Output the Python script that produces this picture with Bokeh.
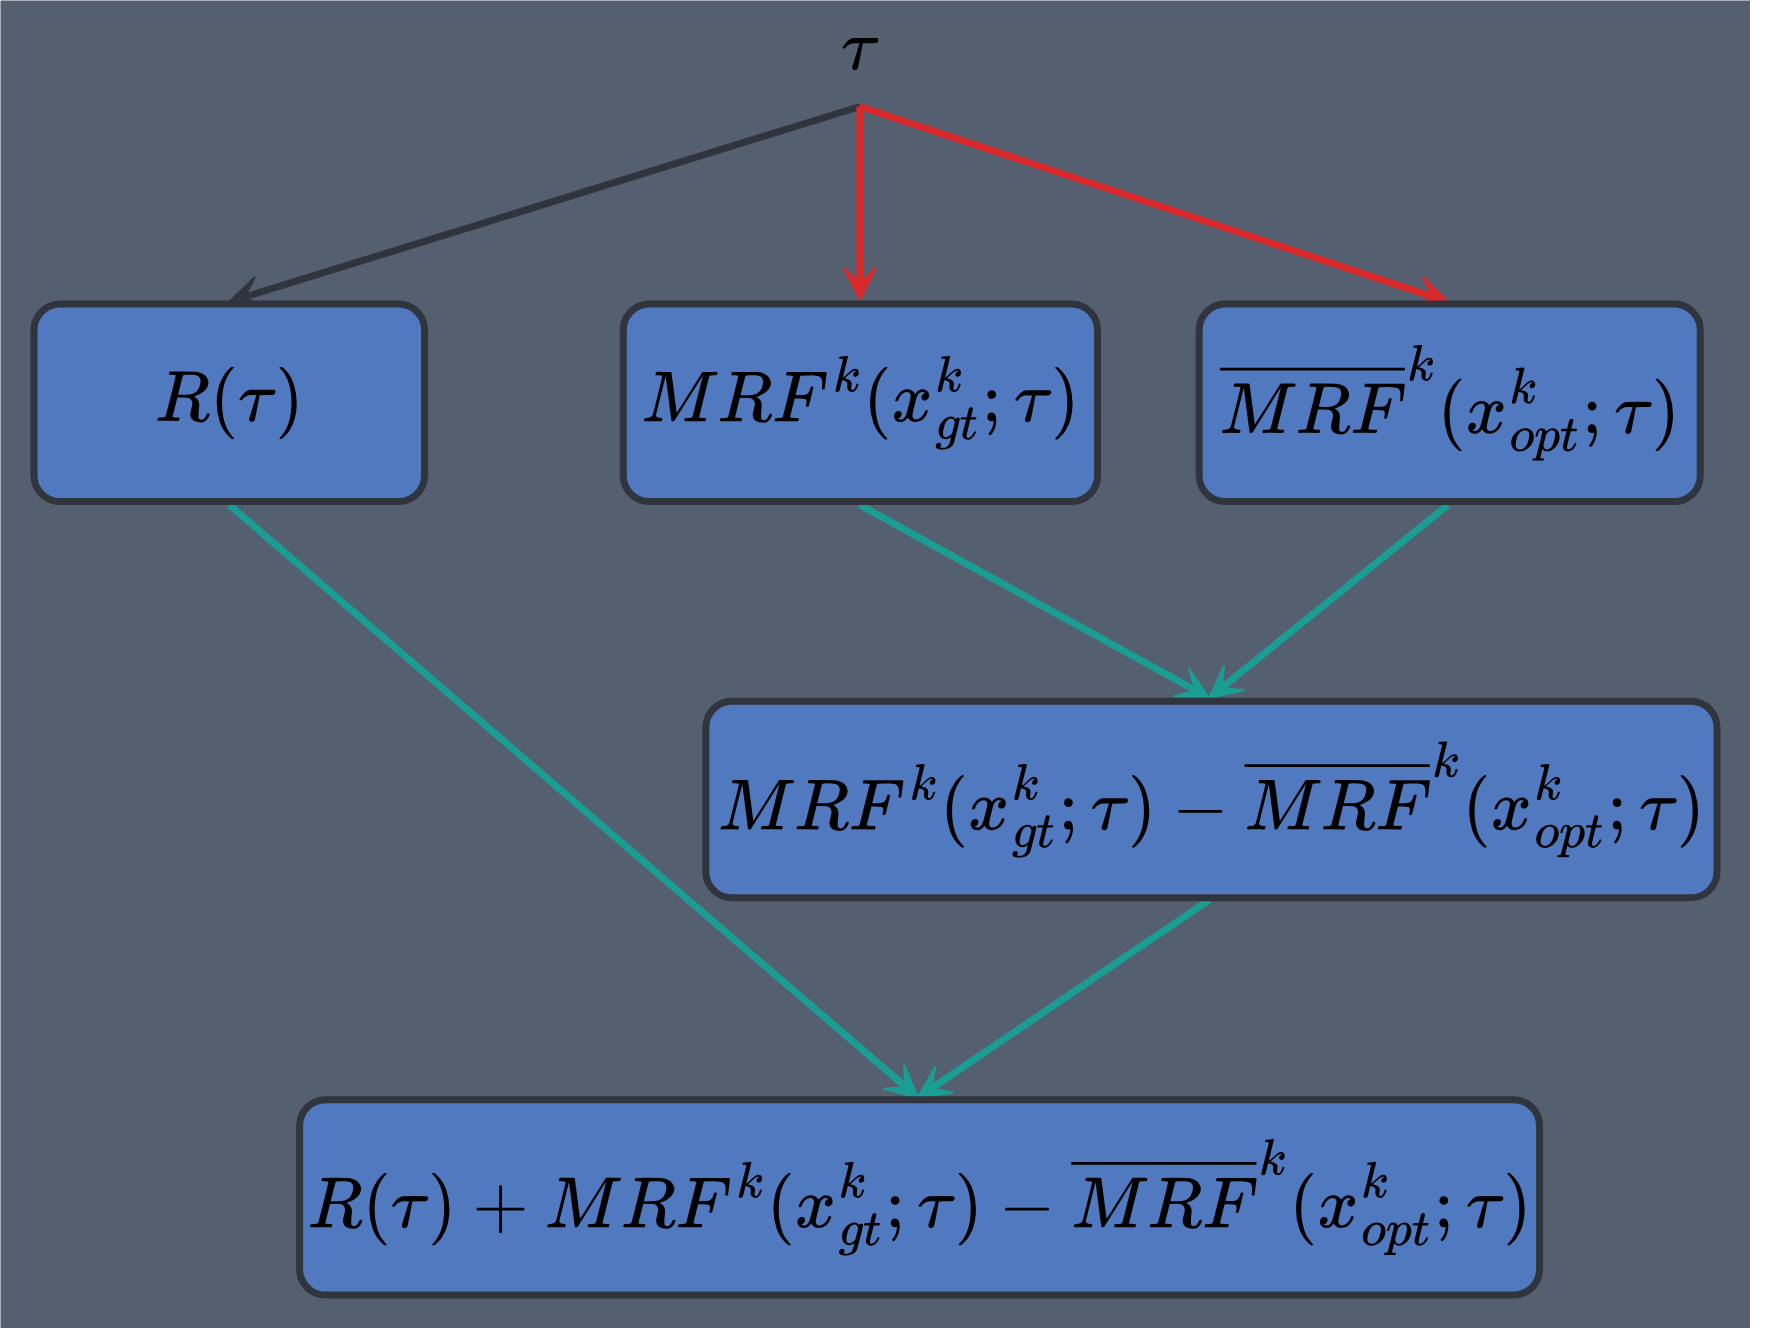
from bokeh.embed import file_html
from bokeh.models import Arrow, BoxAnnotation, Label, Range1d, VeeHead
from bokeh.plotting import figure
from bokeh.resources import INLINE

# boxes: left, right, top, bottom (diagram units, y grows downward)
box_left = [30, 558, 1074, 632, 268]
box_right = [380, 983, 1523, 1538, 1379]
box_top = [272, 272, 272, 628, 985]
box_bottom = [449, 449, 449, 804, 1160]
box_labels = [
    r"$$R(\tau)$$",
    r"$$MRF^k(x^k_{gt};\tau)$$",
    r"$$\overline{MRF}^k(x^k_{opt};\tau)$$",
    r"$$MRF^k(x^k_{gt};\tau)-\overline{MRF}^k(x^k_{opt};\tau)$$",
    r"$$R(\tau)+MRF^k(x^k_{gt};\tau)-\overline{MRF}^k(x^k_{opt};\tau)$$",
]

# arrows: x_start, y_start, x_end, y_end, colour
arr_x0 = [770, 770, 770, 205, 770, 1297, 1083]
arr_y0 = [95, 95, 95, 452, 452, 452, 806]
arr_x1 = [205, 770, 1297, 822, 1083, 1083, 822]
arr_y1 = [270, 268, 270, 983, 625, 625, 983]
arr_col = ["#30353d", "#d9282a", "#d9282a", "#1a9e94", "#1a9e94", "#1a9e94", "#1a9e94"]

p = figure(width=1750, height=1328, output_backend="svg", toolbar_location=None,
           x_range=Range1d(0, 1568), y_range=Range1d(1190, 0),
           background_fill_color="#545f70", border_fill_color="#545f70",
           min_border=0, outline_line_color=None)
p.axis.visible = False
p.grid.visible = False

for i in range(len(arr_x0)):
    p.add_layout(Arrow(x_start=arr_x0[i], y_start=arr_y0[i], x_end=arr_x1[i], y_end=arr_y1[i],
                       line_color=arr_col[i], line_width=7,
                       end=VeeHead(size=32, line_color=arr_col[i], fill_color=arr_col[i],
                                   line_width=2)))

for i in range(len(box_left)):
    p.add_layout(BoxAnnotation(left=box_left[i], right=box_right[i], top=box_top[i],
                               bottom=box_bottom[i], fill_color="#5079c0", fill_alpha=1,
                               line_color="#30353d", line_alpha=1, line_width=7,
                               border_radius=26))
    p.add_layout(Label(x=(box_left[i] + box_right[i]) / 2, y=(box_top[i] + box_bottom[i]) / 2,
                       text=box_labels[i], text_align="center", text_baseline="middle",
                       text_font_size="61px", text_color="black"))

p.add_layout(Label(x=770, y=64, text=r"$$\tau$$", text_align="center",
                   text_baseline="middle", text_font_size="61px", text_color="black"))

open("out.html", "w").write(file_html(p, INLINE))
